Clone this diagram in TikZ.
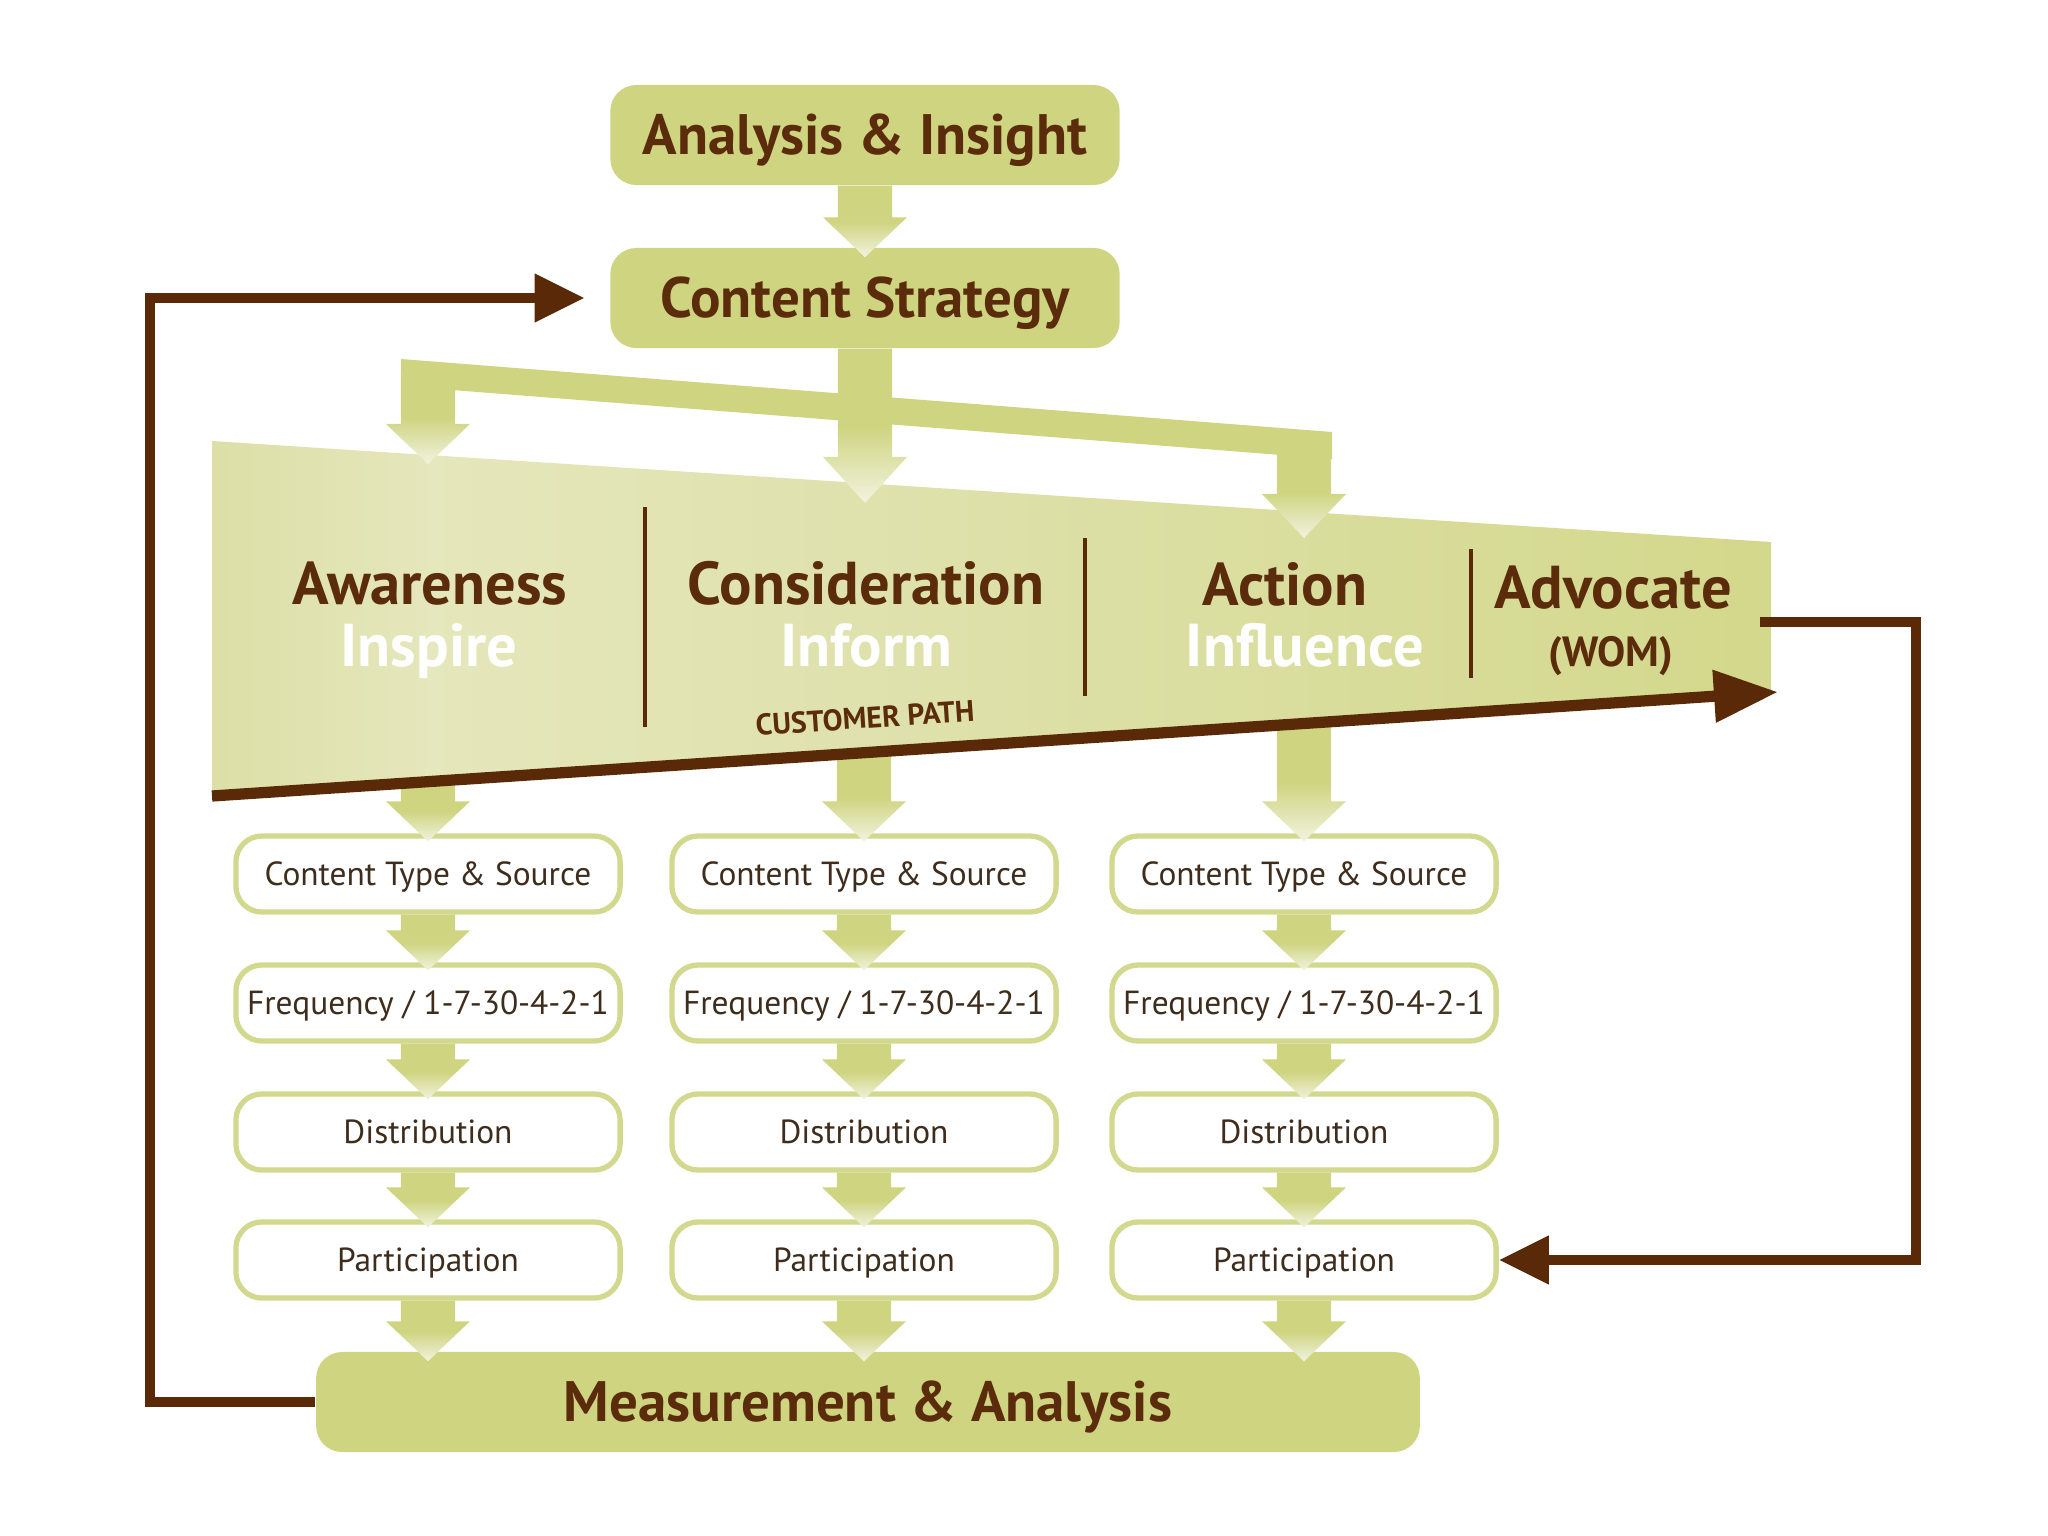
\documentclass[tikz,border=0pt]{standalone}
\usepackage{fontspec}
\setmainfont{PT Sans}
\usetikzlibrary{arrows.meta,calc}
\definecolor{brn}{HTML}{5A2A08}
\definecolor{txt}{HTML}{5B2C0C}
\definecolor{boxtxt}{HTML}{3E2C1C}
\definecolor{grn}{HTML}{CED480}
\definecolor{grnlt}{HTML}{F2F3DF}
\definecolor{bord}{HTML}{D2D88E}
\definecolor{tA}{HTML}{DCDFA6}
\definecolor{tB}{HTML}{E5E7BC}
\definecolor{tC}{HTML}{DEE1AA}
\definecolor{tD}{HTML}{D3D88C}
\pgfdeclareverticalshading{fade}{100bp}{color(0bp)=(grnlt); color(25bp)=(grnlt); color(50bp)=(grn); color(100bp)=(grn)}
\pgfdeclarehorizontalshading{trap}{100bp}{color(0bp)=(tA); color(25bp)=(tA); color(32bp)=(tB); color(48bp)=(tC); color(75bp)=(tD); color(100bp)=(tD)}
\newcommand\garrow[3][0.40cm]{%
  \shade[shading=fade] let \p1=(#2), \p2=(#3) in
   (\x1-0.27cm,\y1) -- (\x1+0.27cm,\y1) -- (\x1+0.27cm,\y2+#1) -- (\x1+0.42cm,\y2+#1)
   -- (\x1,\y2) -- (\x1-0.42cm,\y2+#1) -- (\x1-0.27cm,\y2+#1) -- cycle;}
\tikzset{
  bigbox/.style={fill=grn, rounded corners=0.26cm, minimum width=5.09cm, minimum height=1.0cm,
    text=txt, font=\bfseries\fontsize{16.2}{19}\selectfont, inner sep=0pt, text height=11.3pt, text depth=0pt},
  stepbox/.style={draw=bord, line width=1.5pt, fill=white, rounded corners=0.26cm,
    minimum width=3.84cm, minimum height=0.76cm, text=boxtxt,
    font=\fontsize{9.5}{11}\selectfont, inner sep=0pt, text height=6.65pt, text depth=0pt},
  stage/.style={text=txt, font=\bfseries\fontsize{17.2}{20}\selectfont, inner sep=0pt, text height=12pt, text depth=0pt},
  substage/.style={text=white, font=\bfseries\fontsize{17.2}{20}\selectfont, inner sep=0pt, text height=12pt, text depth=0pt},
  loopline/.style={draw=brn, line width=3pt, -{Triangle[length=0.5cm,width=0.46cm]}},
  divider/.style={draw=brn, line width=0.9pt},
}
\begin{document}
\begin{tikzpicture}[x=0.01cm,y=-0.01cm]
\useasboundingbox (0,0) rectangle (2048,1536);
% funnel
\shade[shading=trap] (212,441) -- (1771,542) -- (1771,692) -- (212,796) -- cycle;
% branch band
\fill[grn] (401,359) -- (1332,432) -- (1332,459) -- (401,386) -- cycle;
% boxes
\node[bigbox] (ai) at (865,135) {Analysis \& Insight};
\node[bigbox] (cs) at (865,298) {Content Strategy};
\node[bigbox, minimum width=11.03cm] (ma) at (868,1402) {Measurement \& Analysis};
\foreach \c/\x in {1/428,2/864,3/1304}{
  \node[stepbox] (r1c\c) at (\x,874) {Content Type \& Source};
  \node[stepbox] (r2c\c) at (\x,1003) {Frequency / 1-7-30-4-2-1};
  \node[stepbox] (r3c\c) at (\x,1132) {Distribution};
  \node[stepbox] (r4c\c) at (\x,1260) {Participation};
}
% coordinates
\coordinate (bandL) at (428,372);
\coordinate (bandR) at (1304,445);
\coordinate (tipL) at (428,464);
\coordinate (tipM) at (865,503);
\coordinate (tipR) at (1304,538);
\coordinate (f1) at (428,781);
\coordinate (f2) at (864,753);
\coordinate (f3) at (1304,724);
% block arrows
\garrow{ai.south}{$(cs.north)+(0,10)$}
\garrow[0.46cm]{cs.south}{tipM}
\garrow{bandL}{tipL}
\garrow[0.44cm]{bandR}{tipR}
\foreach \c in {1,2,3}{
  \garrow{f\c}{$(r1c\c.north)+(0,8)$}
  \garrow{r1c\c.south}{$(r2c\c.north)+(0,8)$}
  \garrow{r2c\c.south}{$(r3c\c.north)+(0,8)$}
  \garrow{r3c\c.south}{$(r4c\c.north)+(0,8)$}
  \garrow{r4c\c.south}{$(ma.north -| r4c\c.south)+(0,10)$}
}
% customer path
\coordinate (cp0) at (212,796);
\coordinate (cp1) at (1778,692);
\draw[brn, line width=3.2pt, -{Triangle[length=0.64cm,width=0.5cm]}] (cp0) -- (cp1);
\node[text=txt, font=\bfseries\fontsize{8.5}{10}\selectfont, rotate=3.9, inner sep=0pt] (cpath) at (865,718) {CUSTOMER PATH};
% dividers
\draw[divider] (645,507) -- (645,727);
\draw[divider] (1085,538) -- (1085,696);
\draw[divider] (1471,549) -- (1471,678);
% stage labels
\node[stage] (aw) at (430,583) {Awareness};
\node[substage] (insp) at (429,645) {Inspire};
\node[stage] (co) at (866,583) {Consideration};
\node[substage] (inf) at (866,645) {Inform};
\node[stage] (ac) at (1285,584) {Action};
\node[substage] (infl) at (1305,645) {Influence};
\node[stage] (ad) at (1613,587) {Advocate};
\node[text=txt, font=\bfseries\fontsize{12}{14}\selectfont, inner sep=0pt, text height=8.4pt, text depth=0pt] (wom) at (1611,652) {(WOM)};
% loops
\coordinate (lt) at (150,298);
\draw[loopline] (ma.west) -| (lt) -- ($(cs.west)+(-25,0)$);
\coordinate (rs) at (1760,622);
\coordinate (rt) at (1916,622);
\draw[loopline] (rs) -- (rt) |- (r4c3.east);
\end{tikzpicture}
\end{document}
